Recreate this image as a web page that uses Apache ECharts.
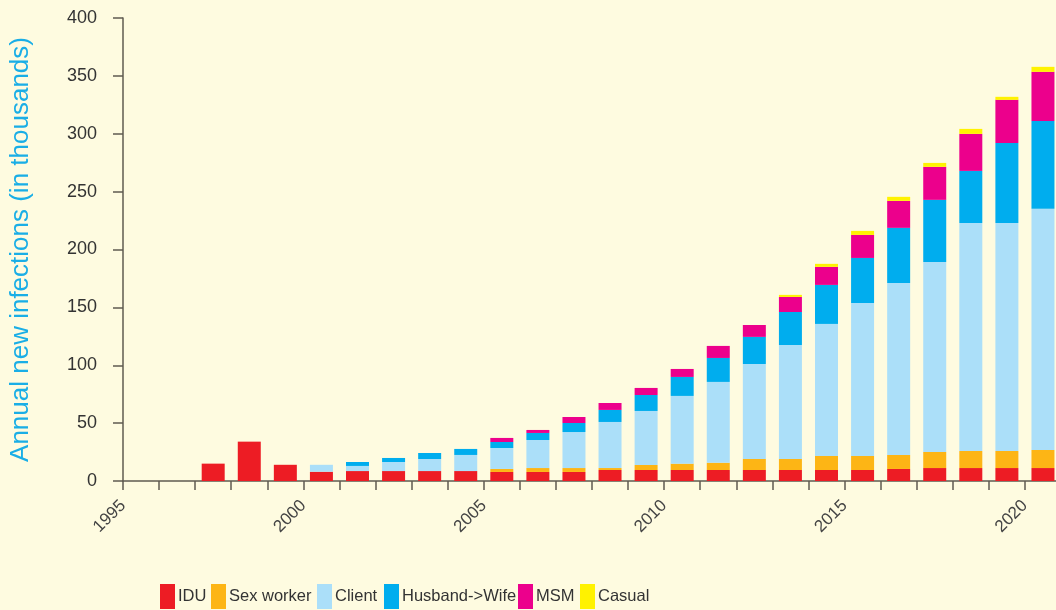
<!DOCTYPE html>
<html>
<head>
<meta charset="utf-8">
<script src="https://cdn.jsdelivr.net/npm/echarts@6/dist/echarts.min.js"></script>
<style>
  html, body { margin: 0; padding: 0; background: #fefbe0; }
  #chart { width: 1056px; height: 610px; }
</style>
</head>
<body>
<div id="chart"></div>
<script>
const years = ['1995', '1996', '1997', '1998', '1999', '2000', '2001', '2002', '2003', '2004',
  '2005', '2006', '2007', '2008', '2009', '2010', '2011', '2012', '2013', '2014',
  '2015', '2016', '2017', '2018', '2019', '2020'];

const idu = [0, 0, 15, 34, 14, 8, 8.6, 8.6, 8.6, 8.6, 7.8, 7.8, 7.8, 9.5, 9.5, 9.5, 9.5, 9.5, 9.5, 9.5,
  9.5, 10.4, 11.2, 11.2, 11.2, 11.2];
const sexWorker = [0, 0, 0, 0, 0, 0, 0, 0, 0, 0, 2.6, 3.4, 3.4, 1.7, 4.3, 5.5, 6.3, 9.5, 9.5, 12.1,
  12.1, 12.1, 13.9, 14.7, 14.7, 15.6];
const client = [0, 0, 0, 0, 0, 6, 4.4, 7.8, 10.4, 13.9, 18.1, 24.2, 31.1, 39.8, 46.7, 58.5, 69.8, 82.1, 98.5, 114.1,
  132.2, 148.6, 164.2, 197.1, 197.1, 208.3];
const husbandWife = [0, 0, 0, 0, 0, 0, 3.4, 3.5, 5.2, 5.2, 5.2, 6.1, 7.8, 10.4, 13.8, 16.4, 20.7, 23.4, 28.5, 33.7,
  38.9, 47.6, 53.6, 44.9, 69.1, 76];
const msm = [0, 0, 0, 0, 0, 0, 0, 0, 0, 0, 3.5, 2.6, 5.2, 6.0, 6.1, 6.9, 10.4, 10.3, 13, 15.6,
  19.9, 23.3, 28.5, 32, 37.2, 42.4];
const casual = [0, 0, 0, 0, 0, 0, 0, 0, 0, 0, 0, 0, 0, 0, 0, 0, 0, 0, 1.8, 2.6,
  3.5, 3.5, 3.4, 4.3, 2.6, 4.3];

const yTicks = { min: 0, max: 400, step: 50 };
const xLabelYears = { min: 1995, max: 2021, step: 5 };

const FONT = '"Liberation Sans", Arial, Helvetica, sans-serif';
const AXIS_COLOR = '#5f5b50';

const seriesDefs = [
  { name: 'IDU', data: idu, color: '#ed1c24', left: 160 },
  { name: 'Sex worker', data: sexWorker, color: '#fdb515', left: 211 },
  { name: 'Client', data: client, color: '#abdff9', left: 317 },
  { name: 'Husband->Wife', data: husbandWife, color: '#00adee', left: 384 },
  { name: 'MSM', data: msm, color: '#ec008c', left: 518 },
  { name: 'Casual', data: casual, color: '#fff200', left: 580 },
];

const chart = echarts.init(document.getElementById('chart'), null, { renderer: 'canvas' });

// one legend per item so the uneven spacing of the original can be kept
const legends = seriesDefs.map(s => ({
  data: [s.name],
  left: s.left,
  top: 584,
  icon: 'rect',
  itemWidth: 15,
  itemHeight: 25,
  padding: 0,
  selectedMode: false,
  textStyle: { color: '#333', fontSize: 16.5, fontFamily: FONT, padding: [0, 0, 0, -2] },
}));

chart.setOption({
  backgroundColor: '#fefbe0',
  animation: false,
  textStyle: { fontFamily: FONT },
  grid: { left: 123, top: 18, width: 938, height: 463, outerBoundsMode: 'none', containLabel: false },
  legend: legends,
  xAxis: [
    {
      type: 'category',
      data: years,
      boundaryGap: true,
      axisLine: { lineStyle: { color: AXIS_COLOR, width: 1.5 } },
      axisTick: { show: true, interval: 0, length: 9, lineStyle: { color: AXIS_COLOR, width: 1.5 } },
      axisLabel: { show: false },
    },
    {
      // label-only axis: the year labels sit on the category boundaries
      type: 'value',
      position: 'bottom',
      min: xLabelYears.min,
      max: xLabelYears.max,
      interval: xLabelYears.step,
      axisLine: { show: false },
      axisTick: { show: false },
      splitLine: { show: false },
      axisLabel: {
        rotate: 45,
        margin: 22,
        color: '#444',
        fontSize: 17,
        fontFamily: FONT,
        formatter: v => (v % 5 === 0 ? String(v) : ''),
      },
    },
  ],
  yAxis: {
    type: 'value',
    min: yTicks.min,
    max: yTicks.max,
    interval: yTicks.step,
    name: 'Annual new infections (in thousands)',
    nameLocation: 'middle',
    nameGap: 89,
    nameTextStyle: { color: '#1aaee6', fontSize: 26, fontFamily: FONT },
    axisLine: { show: true, lineStyle: { color: AXIS_COLOR, width: 1.5 } },
    axisTick: { show: true, length: 10, lineStyle: { color: AXIS_COLOR, width: 1.5 } },
    axisLabel: { color: '#333', fontSize: 18, margin: 26, fontFamily: FONT },
    splitLine: { show: false },
  },
  series: seriesDefs.map(s => ({
    name: s.name,
    type: 'bar',
    stack: 'total',
    xAxisIndex: 0,
    barWidth: 23,
    data: s.data,
    itemStyle: { color: s.color },
  })),
});
</script>
</body>
</html>
